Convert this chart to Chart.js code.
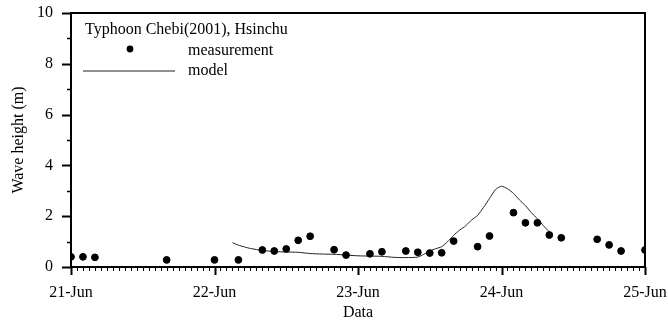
<!DOCTYPE html>
<html>
<head>
<meta charset="utf-8">
<title>Typhoon Chebi wave height</title>
<script src="https://cdn.jsdelivr.net/npm/chart.js@4.4.0/dist/chart.umd.min.js"></script>
<style>
  body { margin: 0; background: #fff; }
  #wrap { width: 668px; height: 325px; }
</style>
</head>
<body>
<div id="wrap"><canvas id="waveChart" width="668" height="325"></canvas></div>
<script>
// hours counted from 21-Jun 00:00
const dayLabels = ['21-Jun', '22-Jun', '23-Jun', '24-Jun', '25-Jun'];

const measHours = [0, 2, 4, 16, 24, 28, 32, 34, 36, 38, 40, 44, 46, 50, 52, 56, 58, 60, 62, 64, 68, 70, 74, 76, 78, 80, 82, 88, 90, 92, 96];
const measHeight = [0.40, 0.40, 0.38, 0.28, 0.28, 0.28, 0.67, 0.63, 0.71, 1.05, 1.21, 0.68, 0.47, 0.52, 0.60, 0.63, 0.58, 0.55, 0.56, 1.02, 0.80, 1.22, 2.14, 1.74, 1.74, 1.26, 1.15, 1.09, 0.87, 0.63, 0.67];

const modelHours = [27, 28, 29, 30, 32, 34, 36, 38, 40, 42, 44, 46, 48, 50, 52, 54, 56, 58, 59, 60, 61, 62, 63, 64, 65, 66, 67, 68, 69, 70, 71, 72, 73, 74, 75, 76, 77, 78, 79, 80];
const modelHeight = [0.96, 0.86, 0.79, 0.73, 0.65, 0.61, 0.59, 0.58, 0.53, 0.51, 0.50, 0.47, 0.44, 0.43, 0.42, 0.38, 0.37, 0.39, 0.50, 0.63, 0.72, 0.80, 1.00, 1.25, 1.45, 1.62, 1.85, 2.03, 2.35, 2.70, 3.05, 3.18, 3.08, 2.90, 2.64, 2.42, 2.14, 1.90, 1.63, 1.38];

const legendTitle = 'Typhoon Chebi(2001), Hsinchu';
const seriesNames = ['measurement', 'model'];

const FONT = '"Liberation Serif", "Times New Roman", serif';

function toPoints(xs, ys) {
    return xs.map((h, i) => ({ x: h, y: ys[i] }));
}

// tick marks (hourly minor on x, odd minor on y) + top/right frame
const frameTicks = {
    id: 'frameTicks',
    afterDraw(chart) {
        const { ctx, chartArea: a, scales: { x, y } } = chart;
        ctx.save();
        ctx.strokeStyle = '#000';
        ctx.lineWidth = 2;
        ctx.beginPath();
        ctx.moveTo(a.left, a.top);
        ctx.lineTo(a.right, a.top);
        ctx.lineTo(a.right, a.bottom);
        ctx.stroke();

        for (let h = 0; h <= 96; h++) {
            const px = Math.round(x.getPixelForValue(h)) + 0.5;
            const major = h % 24 === 0;
            ctx.lineWidth = major ? 2 : 1;
            ctx.beginPath();
            ctx.moveTo(px, a.bottom);
            ctx.lineTo(px, a.bottom + (major ? 8 : 4));
            ctx.stroke();
        }
        for (let v = 0; v <= 10; v++) {
            const py = Math.round(y.getPixelForValue(v)) + 0.5;
            const major = v % 2 === 0;
            ctx.lineWidth = major ? 2 : 1.5;
            ctx.beginPath();
            ctx.moveTo(a.left, py);
            ctx.lineTo(a.left - (major ? 9 : 4), py);
            ctx.stroke();
        }
        ctx.restore();
    }
};

// legend block in the upper left of the plot
const insideLegend = {
    id: 'insideLegend',
    afterDraw(chart) {
        const { ctx, chartArea: a } = chart;
        const left = a.left;
        const top = a.top;
        ctx.save();
        ctx.fillStyle = '#000';
        ctx.font = '16px ' + FONT;
        ctx.textBaseline = 'alphabetic';
        ctx.textAlign = 'left';
        ctx.fillText(legendTitle, left + 14, top + 21);
        ctx.fillText(seriesNames[0], left + 117, top + 42);
        ctx.fillText(seriesNames[1], left + 117, top + 62);

        ctx.beginPath();
        ctx.arc(left + 59, top + 36, 3.4, 0, Math.PI * 2);
        ctx.fill();

        ctx.strokeStyle = '#222';
        ctx.lineWidth = 1;
        ctx.beginPath();
        ctx.moveTo(left + 12, top + 58);
        ctx.lineTo(left + 104, top + 58);
        ctx.stroke();
        ctx.restore();
    }
};

const ctx = document.getElementById('waveChart').getContext('2d');
const waveChart = new Chart(ctx, {
    type: 'scatter',
    data: {
        datasets: [{
            label: seriesNames[0],
            data: toPoints(measHours, measHeight),
            backgroundColor: '#000',
            borderColor: '#000',
            pointRadius: 3.4,
            pointHoverRadius: 3.4,
            showLine: false,
        }, {
            label: seriesNames[1],
            data: toPoints(modelHours, modelHeight),
            borderColor: '#222',
            borderWidth: 1,
            pointRadius: 0,
            showLine: true,
            tension: 0.2,
        }],
    },
    options: {
        responsive: false,
        animation: false,
        layout: {
            padding: { top: 13, right: 23, left: 0, bottom: 0 }
        },
        plugins: {
            legend: { display: false },
            tooltip: { enabled: false },
        },
        scales: {
            x: {
                type: 'linear',
                min: 0,
                max: 96,
                afterFit(scale) {
                    scale.height = 58;
                    scale.paddingLeft = 0;
                    scale.paddingRight = 0;
                },
                grid: { display: false, drawTicks: false },
                border: { display: true, color: '#000', width: 2 },
                ticks: {
                    stepSize: 24,
                    padding: 16,
                    color: '#000',
                    maxRotation: 0,
                    font: { family: FONT, size: 16 },
                    callback: (v) => dayLabels[v / 24] || '',
                },
                title: {
                    display: true,
                    text: 'Data',
                    color: '#000',
                    font: { family: FONT, size: 16 },
                    padding: { top: 0, bottom: 3 },
                },
            },
            y: {
                min: 0,
                max: 10,
                afterFit(scale) {
                    scale.width = 71;
                    scale.paddingTop = 0;
                    scale.paddingBottom = 0;
                },
                grid: { display: false, drawTicks: false },
                border: { display: true, color: '#000', width: 2 },
                ticks: {
                    stepSize: 2,
                    padding: 18,
                    color: '#000',
                    font: { family: FONT, size: 16 },
                },
                title: {
                    display: true,
                    text: 'Wave height (m)',
                    color: '#000',
                    font: { family: FONT, size: 16 },
                    padding: { top: 9, bottom: 0 },
                },
            },
        },
    },
    plugins: [frameTicks, insideLegend],
});
</script>
</body>
</html>
